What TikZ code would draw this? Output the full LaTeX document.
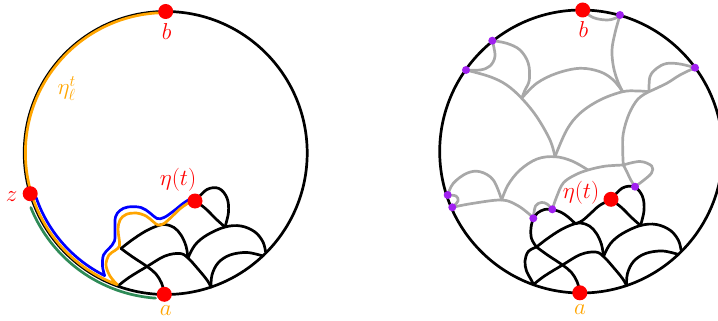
\RequirePackage{fix-cm}
\documentclass[tikz,border=0pt]{standalone}
\definecolor{myorange}{RGB}{255,165,0}
\definecolor{myblue}{RGB}{0,0,255}
\definecolor{mygreen}{RGB}{46,139,87}
\definecolor{myred}{RGB}{255,0,0}
\definecolor{myviolet}{RGB}{160,32,240}
\definecolor{mygray}{RGB}{168,168,168}
\tikzset{
  curve/.style={line width=2.7pt, line cap=round, line join=round},
  blk/.style={curve, black},
  gry/.style={curve, mygray},
  reddot/.style={circle, fill=myred, inner sep=0pt, minimum size=15pt},
  vdot/.style={circle, fill=myviolet, inner sep=0pt, minimum size=8pt},
  lab/.style={font=\fontsize{23}{27}\selectfont, inner sep=0pt},
  sm/.style={smooth, tension=0.6},
}
\newcommand\blackstruct{%
  \draw[blk] plot[sm] coordinates {(118,286) (129,277.5) (147,266.5) (165,256) (180,253.5) (188,258) (198,269) (207,280) (211,287)};
  \draw[blk] plot[sm] coordinates {(121,248.5) (132,240) (145,231.5) (157,226) (165,224.5) (174,227.5) (181,235) (186,246) (188,258)};
  \draw[blk] plot[sm] coordinates {(188,258) (195,245) (207,235) (225,227) (241,226) (255,232) (263,242) (265.5,251.5)};
  \draw[blk] plot[sm] coordinates {(211,287) (212,275) (218,263) (230,255) (247,252.5) (263,256)};
  \draw[blk] plot[sm] coordinates {(121,248.5) (132,256.5) (147,266.5) (156,274) (161.5,283) (164,292)};
  \draw[blk] plot[sm] coordinates {(195.5,201) (207,189.5) (219,188.5) (227,198) (228.5,212) (225,227)};
  \draw[blk] plot[sm] coordinates {(195.5,201) (206,209) (216,219) (225,227)};
}
\begin{document}
\begin{tikzpicture}[x=1pt,y=-1pt]
\useasboundingbox (0,0) rectangle (718,321);
% ---------------- left picture ----------------
\draw[blk] (165.7,153) circle[radius=141.5];
\blackstruct
\draw[curve, mygreen] (165.7,153) ++(158:145.5) arc[start angle=158, end angle=94, radius=145.5];
\draw[curve, myblue] (165.7,153) ++(161:137) arc[start angle=161, end angle=116.5, radius=137]
  -- plot[sm] coordinates {(104.6,275.6) (102.5,266) (103.5,255) (109,248.5) (114.5,241) (115,228) (115.5,217) (120,210.5) (128,207) (141,207.5) (150,213) (157,218.5) (164,217.5) (173,211.5) (183,203.5) (190,199)};
\draw[curve, myorange] (165.7,153) ++(270:140.3) arc[start angle=270, end angle=110.2, radius=140.3]
  -- plot[sm] coordinates {(117.3,284.7) (110,276) (106,265) (109,255) (115,250.5) (119.5,246) (119,238) (118,229) (120,220) (126,214.5) (136,213) (146,216) (153,221.5) (158,225) (164,223.5) (172,216.5) (181,208) (190,202)};
\node[reddot] (bL) at (165.7,11.5) {};
\node[reddot] (zL) at (30.2,193.7) {};
\node[reddot] (aL) at (164.3,294.3) {};
\node[reddot] (eL) at (195,201) {};
\node[lab, text=myred] (bLlab) at (166.7,31.7) {$b$};
\node[lab, text=myred] (zLlab) at (11.7,196.7) {$z$};
\node[lab, text=myorange] (aLlab) at (165.7,310.7) {$a$};
\node[lab, text=myred] (eLlab) at (178,180) {$\eta(t)$};
\node[lab, text=myorange] (etaLlab) at (66.7,88.3) {$\eta_\ell^t$};
% ---------------- right picture ----------------
\begin{scope}[shift={(415.5,-1.5)}]
\draw[blk] (165.7,153) circle[radius=141.5];
\end{scope}
\draw[gry] plot[sm] coordinates {(582.7,10) (593,17.5) (606.7,20) (616,18) (620,15)};
\draw[gry] plot[sm] coordinates {(620,15) (615,33) (612,50) (613.5,67) (618,82) (622.7,91.7)};
\draw[gry] plot[sm] coordinates {(521.7,98.3) (536.7,83.3) (556.7,73.3) (580,68.3) (600,71.7) (613.3,80) (622.7,91.7)};
\draw[gry] plot[sm] coordinates {(492.3,40.7) (495,56) (490,66) (480,70) (466,70)};
\draw[gry] plot[sm] coordinates {(492.3,40.7) (506.7,43.3) (520,50) (528.3,63.3) (529.3,80) (525,90) (521.7,98.3)};
\draw[gry] plot[sm] coordinates {(466,70) (490,76.7) (506.7,85) (521.7,98.3) (536.7,116.7) (550,140) (555,156.7)};
\draw[gry] plot[sm] coordinates {(555,156.7) (566.7,130) (580,113.3) (600,100) (622.7,91.7) (638,91) (649,91.7)};
\draw[gry] plot[sm] coordinates {(649,91.7) (666.7,83.3) (680,75) (695,67.7)};
\draw[gry] plot[sm] coordinates {(649,91.7) (650,76.7) (656.7,68.3) (666.7,63.5) (680,64) (695,67.7)};
\draw[gry] plot[sm] coordinates {(649,91.7) (638,99) (629,114) (623.3,133.3) (622.7,150) (623.3,165)};
\draw[gry] plot[sm] coordinates {(501.7,200) (508,185) (520,170) (537,159) (555,156.7) (572,161) (588,170)};
\draw[gry] plot[sm] coordinates {(552.3,209.3) (556.7,196.7) (563.3,183) (575,175) (588,170) (603,166.5) (613.3,165.5) (623.3,165)};
\draw[gry] plot[sm] coordinates {(623.3,165) (627,172) (630.5,179.5) (635,186.7)};
\draw[gry] plot[sm] coordinates {(623.3,165) (640,161.5) (651.7,166) (651.5,173) (644,180) (635,186.7)};
\draw[gry] plot[sm] coordinates {(447.7,195) (453.3,183.3) (466.7,173.3) (480,171.7) (493.3,180) (501.7,200)};
\draw[gry] plot[sm] coordinates {(452.3,207.3) (473.3,203.3) (501.7,200) (516.7,205) (528.3,213.3) (533.3,218.3)};
\draw[gry] plot[sm] coordinates {(447.7,195) (456,196) (458,201) (452.3,207.3)};
\draw[gry] plot[sm] coordinates {(533.3,218.3) (535.5,206) (541.5,202.5) (547,204) (552.3,209.3)};
\begin{scope}[shift={(415.5,-1.5)}]
\blackstruct
\draw[blk] plot[sm] coordinates {(121,248.5) (112.8,253) (109.5,262.5) (111,272.5) (115.5,281) (118,286)};
\draw[blk] plot[sm] coordinates {(117.8,219.8) (115.5,229) (116,240) (121,248.5)};
\draw[blk] plot[sm] coordinates {(117.8,219.8) (122,214.5) (129,211) (136.8,210.8)};
\draw[blk] plot[sm] coordinates {(136.8,210.8) (145,213.5) (152,218) (160,225.3)};
\draw[blk] plot[sm] coordinates {(160,225.3) (167,222) (175,215) (184,207) (195.5,201)};
\end{scope}
\node[reddot] (bR) at (582.7,10) {};
\node[reddot] (aR) at (579.8,292.8) {};
\node[reddot] (eR) at (611,199.3) {};
\node[vdot] (g1) at (620,15) {};
\node[vdot] (g2) at (492.3,40.7) {};
\node[vdot] (g3) at (466,70) {};
\node[vdot] (g4) at (695,67.7) {};
\node[vdot] (g5) at (447.7,195) {};
\node[vdot] (g6) at (452.3,207.3) {};
\node[vdot] (q1) at (533.3,218.3) {};
\node[vdot] (q2) at (552.3,209.3) {};
\node[vdot] (q3) at (635,186.7) {};
\node[lab, text=myred] (bRlab) at (583.3,30) {$b$};
\node[lab, text=myorange] (aRlab) at (580,310) {$a$};
\node[lab, text=myred] (eRlab) at (581,193) {$\eta(t)$};
\end{tikzpicture}
\end{document}
